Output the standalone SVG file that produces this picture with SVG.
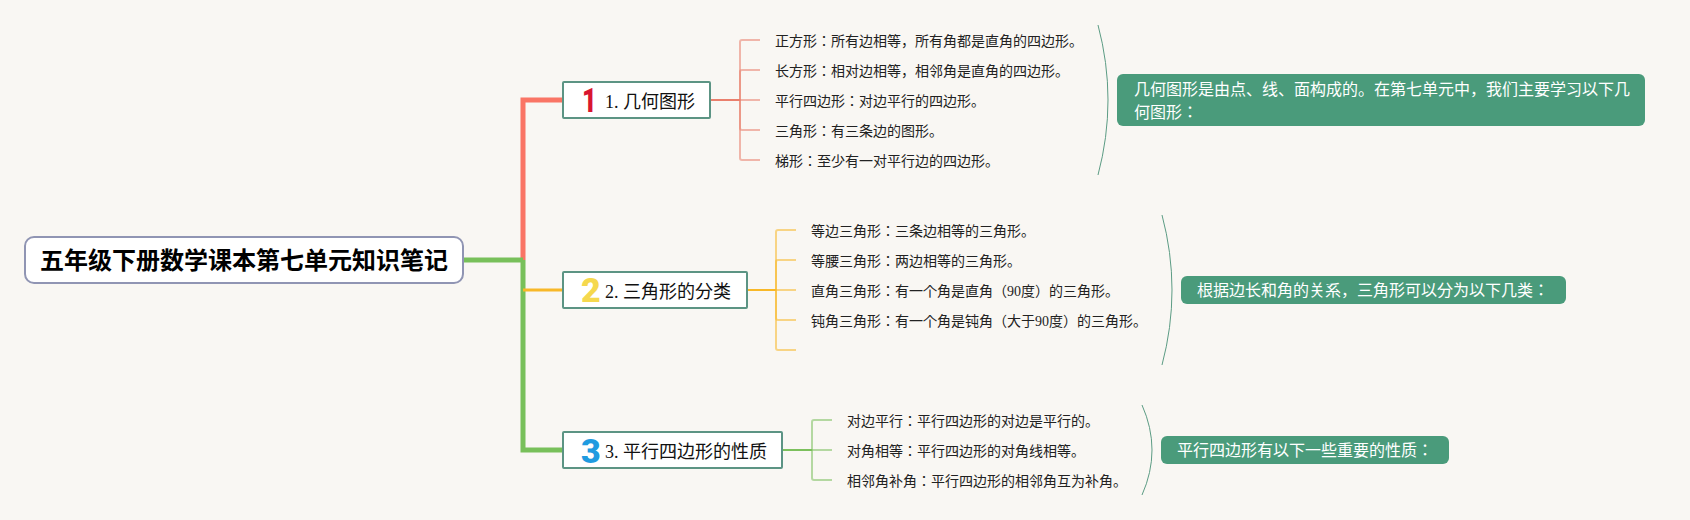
<svg xmlns="http://www.w3.org/2000/svg" width="1690" height="520" viewBox="0 0 1690 520">
<style>
text{font-family:"Liberation Serif","Noto Sans CJK JP",serif}
.leaf{font-size:14px;fill:#222}
.topic{font-size:18px;fill:#111}
.note{font-size:16px;fill:#fff}
.nbox{fill:#4a9b7b}
.tbox{fill:#fff;stroke:#5c9484;stroke-width:2}
.arc{fill:none;stroke:#5c9c84;stroke-width:1}
.ico{font-family:Roboto,sans-serif;font-size:34px;font-weight:900}
path,line{fill:none}
.k{stroke-width:2;opacity:.55}
.s{stroke-width:2}
</style>
<rect width="1690" height="520" fill="#f9f7f3"/>
<g id="connectors">
<path d="M523 260V100H562" stroke="#fa7565" stroke-width="5"/>
<path d="M523 260V450H562" stroke="#78c05a" stroke-width="5"/>
<path d="M463 260H523" stroke="#78c05a" stroke-width="5"/>
<path d="M523 290H562" stroke="#f8b828" stroke-width="3"/>
<g stroke="#ea7f6c">
<path class="s" d="M710 100H740"/>
<path class="k" d="M740 100V42q0-2 2-2H760"/>
<path class="k" d="M740 100V72q0-2 2-2H760"/>
<path class="k" d="M740 100H760"/>
<path class="k" d="M740 100V128q0 2 2 2H760"/>
<path class="k" d="M740 100V158q0 2 2 2H760"/>
</g>
<g stroke="#f8b828">
<path class="s" d="M747 290H776"/>
<path class="k" d="M776 290V232q0-2 2-2H796"/>
<path class="k" d="M776 290V262q0-2 2-2H796"/>
<path class="k" d="M776 290H796"/>
<path class="k" d="M776 290V318q0 2 2 2H796"/>
<path class="k" d="M776 290V348q0 2 2 2H796"/>
</g>
<g stroke="#7cc05c">
<path class="s" d="M782 450H812"/>
<path class="k" d="M812 450V422q0-2 2-2H832"/>
<path class="k" d="M812 450H832"/>
<path class="k" d="M812 450V478q0 2 2 2H832"/>
</g>
<path class="arc" d="M1098 25Q1118 100 1098 175"/>
<path class="arc" d="M1162 215Q1182 290 1162 365"/>
<path class="arc" d="M1142 405Q1162 450 1142 495"/>
</g>
<g id="root">
<rect x="25" y="237" width="438" height="46" rx="9" fill="#fff" stroke="#9095b3" stroke-width="2"/>
<text x="40" y="269" font-size="24" font-weight="700" fill="#000">五年级下册数学课本第七单元知识笔记</text>
</g>
<g id="topic1">
<rect class="tbox" x="563" y="82" width="147" height="36" rx="1"/>
<text class="ico" transform="translate(582 112) scale(.75 1)" fill="#d9152f">1</text>
<text class="topic" x="605" y="108">1. 几何图形</text>
</g>
<g id="topic2">
<rect class="tbox" x="563" y="272" width="184" height="36" rx="1"/>
<text class="ico" x="581" y="302" fill="#f5d84e">2</text>
<text class="topic" x="605" y="298">2. 三角形的分类</text>
</g>
<g id="topic3">
<rect class="tbox" x="563" y="432" width="219" height="36" rx="1"/>
<text class="ico" x="581" y="463" fill="#1f9be0">3</text>
<text class="topic" x="605" y="458">3. 平行四边形的性质</text>
</g>
<g id="leaf1-1"><text class="leaf" x="775" y="46">正方形：所有边相等，所有角都是直角的四边形。</text></g>
<g id="leaf1-2"><text class="leaf" x="775" y="76">长方形：相对边相等，相邻角是直角的四边形。</text></g>
<g id="leaf1-3"><text class="leaf" x="775" y="106">平行四边形：对边平行的四边形。</text></g>
<g id="leaf1-4"><text class="leaf" x="775" y="136">三角形：有三条边的图形。</text></g>
<g id="leaf1-5"><text class="leaf" x="775" y="166">梯形：至少有一对平行边的四边形。</text></g>
<g id="leaf2-1"><text class="leaf" x="811" y="236">等边三角形：三条边相等的三角形。</text></g>
<g id="leaf2-2"><text class="leaf" x="811" y="266">等腰三角形：两边相等的三角形。</text></g>
<g id="leaf2-3"><text class="leaf" x="811" y="296">直角三角形：有一个角是直角（90度）的三角形。</text></g>
<g id="leaf2-4"><text class="leaf" x="811" y="326">钝角三角形：有一个角是钝角（大于90度）的三角形。</text></g>
<g id="leaf3-1"><text class="leaf" x="847" y="426">对边平行：平行四边形的对边是平行的。</text></g>
<g id="leaf3-2"><text class="leaf" x="847" y="456">对角相等：平行四边形的对角线相等。</text></g>
<g id="leaf3-3"><text class="leaf" x="847" y="486">相邻角补角：平行四边形的相邻角互为补角。</text></g>
<g id="note1">
<rect class="nbox" x="1117" y="74" width="528" height="52" rx="6"/>
<text class="note" x="1134" y="95">几何图形是由点、线、面构成的。在第七单元中，我们主要学习以下几</text>
<text class="note" x="1134" y="118">何图形：</text>
</g>
<g id="note2">
<rect class="nbox" x="1181" y="276" width="385" height="28" rx="6"/>
<text class="note" x="1197" y="296">根据边长和角的关系，三角形可以分为以下几类：</text>
</g>
<g id="note3">
<rect class="nbox" x="1161" y="436" width="288" height="28" rx="6"/>
<text class="note" x="1177" y="456">平行四边形有以下一些重要的性质：</text>
</g>
</svg>
